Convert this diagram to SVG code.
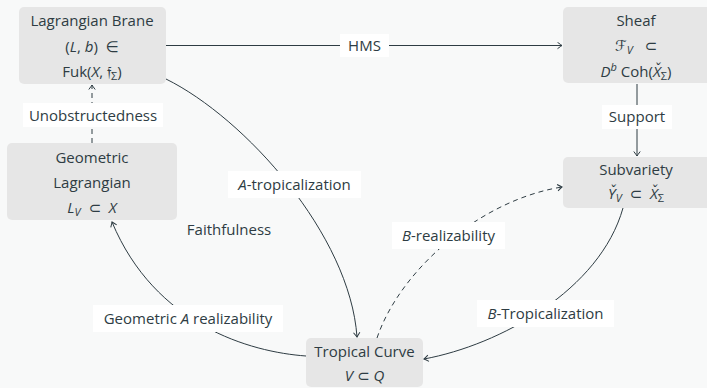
<svg xmlns="http://www.w3.org/2000/svg" width="707" height="388" viewBox="0 0 707 388">
<defs>
<style>
text{font-family:"Open Sans","DejaVu Sans",sans-serif;font-size:15px;fill:#2e3c43;text-anchor:middle}
.m{font-style:italic}
.s{font-size:11px}
.node rect{fill:#e6e6e6}
.lbl{fill:#ffffff}
.e{fill:none;stroke:#2e3c43;stroke-width:1}
.d{stroke-dasharray:5 4}
</style>
<marker id="ar" viewBox="-6 -4 8 8" markerWidth="8" markerHeight="8" refX="0" refY="0" orient="auto" markerUnits="userSpaceOnUse">
<path d="M-4.5,-3.2 Q-1,-0.6 0,0 Q-1,0.6 -4.5,3.2" fill="none" stroke="#2e3c43" stroke-width="1"/>
</marker>
</defs>
<rect width="707" height="388" fill="#f8f9f9"/>
<g id="connectors">
<path class="e" d="M166,45.5 L562,45.5" marker-end="url(#ar)"/>
<path class="e" d="M637,84 L637,156" marker-end="url(#ar)"/>
<path class="e d" d="M92,143 L92,85" marker-end="url(#ar)"/>
<path class="e" d="M166,79 C245,118 350,235 357,337" marker-end="url(#ar)"/>
<path class="e" d="M306,356 C250,352 155,325 112,222" marker-end="url(#ar)"/>
<path class="e" d="M623,208 C600,290 500,345 424,359" marker-end="url(#ar)"/>
<path class="e d" d="M377,338 C400,270 480,200 562,187" marker-end="url(#ar)"/>
<rect class="lbl" x="340" y="34" width="49" height="23"/>
<text x="364.5" y="50.5">HMS</text>
<rect class="lbl" x="602" y="105" width="70" height="24"/>
<text x="637" y="122">Support</text>
<rect class="lbl" x="23" y="103" width="140" height="24"/>
<text x="93" y="120.5">Unobstructedness</text>
<rect class="lbl" x="228" y="171" width="133" height="27"/>
<text x="294.5" y="189.5"><tspan class="m">A</tspan>-tropicalization</text>
<rect class="lbl" x="392" y="222" width="113" height="27"/>
<text x="448.5" y="240.5"><tspan class="m">B</tspan>-realizability</text>
<rect class="lbl" x="93" y="305" width="190" height="27"/>
<text x="188" y="323.5">Geometric <tspan class="m">A</tspan> realizability</text>
<rect class="lbl" x="477" y="300" width="137" height="27"/>
<text x="545.5" y="318.5"><tspan class="m">B</tspan>-Tropicalization</text>
<text x="229" y="234.5">Faithfulness</text>
</g>
<g id="lagrangian-brane" class="node">
<rect x="19" y="7" width="147" height="77" rx="5"/>
<text x="92" y="25.5">Lagrangian Brane</text>
<text x="92" y="51.5">(<tspan class="m">L</tspan>, <tspan class="m">b</tspan>)&#160;&#160;∈</text>
<text x="92" y="76.5">Fuk(<tspan class="m">X</tspan>, 𝔣<tspan class="s" dy="3">Σ</tspan><tspan dy="-3">)</tspan></text>
</g>
<g id="sheaf" class="node">
<rect x="563" y="7" width="150" height="76" rx="5"/>
<text x="636" y="25.5">Sheaf</text>
<text x="636" y="50.5"><tspan class="m">ℱ</tspan><tspan class="s m" dy="3">V</tspan><tspan dy="-3">&#160;&#160;&#160;⊂</tspan></text>
<text x="636" y="76.5"><tspan class="m">D</tspan><tspan class="s m" dy="-6">b</tspan><tspan dy="6"> Coh(</tspan><tspan class="m">X̌</tspan><tspan class="s" dy="3">Σ</tspan><tspan dy="-3">)</tspan></text>
</g>
<g id="geometric-lagrangian" class="node">
<rect x="7" y="143" width="170" height="77" rx="5"/>
<text x="92" y="162.5">Geometric</text>
<text x="92" y="187.5">Lagrangian</text>
<text x="92" y="212.5"><tspan class="m">L</tspan><tspan class="s m" dy="3">V</tspan><tspan dy="-3">&#160;&#160;⊂&#160;&#160;</tspan><tspan class="m">X</tspan></text>
</g>
<g id="subvariety" class="node">
<rect x="563" y="157" width="150" height="51" rx="5"/>
<text x="636" y="174.5">Subvariety</text>
<text x="636" y="198.5"><tspan class="m">Y̌</tspan><tspan class="s m" dy="3">V</tspan><tspan dy="-3">&#160;&#160;⊂&#160;&#160;</tspan><tspan class="m">X̌</tspan><tspan class="s" dy="3">Σ</tspan></text>
</g>
<g id="tropical-curve" class="node">
<rect x="306" y="338" width="117" height="49" rx="5"/>
<text x="364.5" y="356.5">Tropical Curve</text>
<text x="364.5" y="380.5"><tspan class="m">V</tspan> ⊂ <tspan class="m">Q</tspan></text>
</g>
</svg>
